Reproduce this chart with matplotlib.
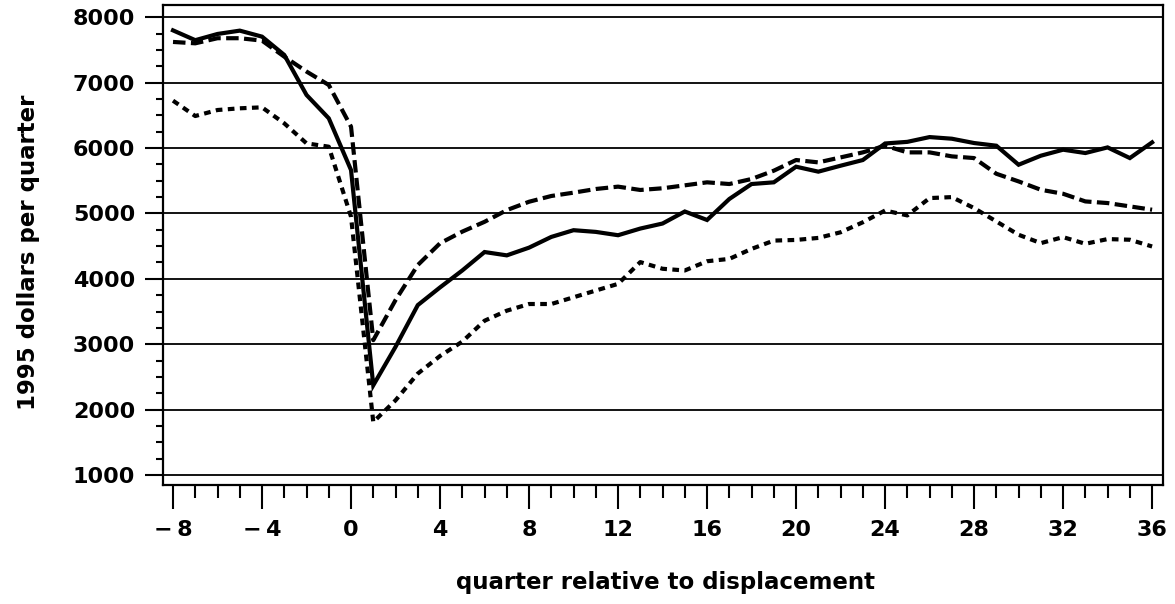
import matplotlib
matplotlib.use("Agg")
import matplotlib.pyplot as plt
from matplotlib.ticker import MultipleLocator, FixedLocator

quarters = list(range(-8, 37))

solid = [7800, 7650, 7745, 7796, 7704, 7424, 6812, 6455, 5664,
         2372, 2960, 3598, 3869, 4128, 4410, 4359, 4477, 4641, 4744, 4718,
         4667, 4769, 4846, 5030, 4900, 5221, 5450, 5476, 5715, 5639, 5730,
         5817, 6070, 6095, 6168, 6143, 6077, 6036, 5745, 5883, 5975, 5924,
         6010, 5847, 6087]

dashed = [7623, 7602, 7680, 7680, 7643, 7398, 7170, 6965, 6327,
          3062, 3675, 4211, 4544, 4722, 4872, 5051, 5179, 5267, 5318, 5374,
          5410, 5359, 5385, 5430, 5476, 5450, 5527, 5654, 5817, 5781, 5857,
          5934, 6036, 5934, 5934, 5873, 5847, 5607, 5490, 5362, 5301, 5184,
          5159, 5108, 5057]

dotted = [6725, 6490, 6582, 6608, 6623, 6378, 6072, 6021, 4950,
          1810, 2142, 2551, 2820, 3040, 3359, 3513, 3615, 3615, 3718, 3821,
          3923, 4256, 4154, 4128, 4269, 4305, 4458, 4585, 4595, 4626, 4712,
          4865, 5045, 4970, 5235, 5250, 5082, 4878, 4674, 4546, 4638, 4536,
          4608, 4598, 4495]

x_major = [-8, -4, 0, 4, 8, 12, 16, 20, 24, 28, 32, 36]
x_labels = ["\u2212\u20098", "\u2212\u20094", "0", "4", "8", "12", "16", "20", "24", "28", "32", "36"]
y_major = [1000, 2000, 3000, 4000, 5000, 6000, 7000, 8000]
y_labels = ["1000", "2000", "3000", "4000", "5000", "6000", "7000", "8000"]

plt.rcParams['font.family'] = ['DejaVu Sans']
plt.rcParams['font.weight'] = 'bold'

fig = plt.figure(figsize=(11.75, 6.04), dpi=100)
ax = fig.add_axes([163/1175, 1-485/604, 1000/1175, 480/604])

for yv in y_major:
    ax.axhline(yv, color='black', lw=1.3, zorder=1)

lw = 3.0
ax.plot(quarters, solid, color='black', lw=lw, solid_joinstyle='miter', zorder=3)
ax.plot(quarters, dashed, color='black', lw=lw, dashes=(3.0, 1.3), dash_capstyle='butt', zorder=3)
ax.plot(quarters, dotted, color='black', lw=lw, dashes=(1.6, 1.3), dash_capstyle='butt', zorder=3)

ax.set_xlim(-8.45, 36.49)
ax.set_ylim(847, 8188)

ax.xaxis.set_major_locator(FixedLocator(x_major))
ax.set_xticklabels(x_labels)
ax.xaxis.set_minor_locator(MultipleLocator(1))
ax.yaxis.set_major_locator(FixedLocator(y_major))
ax.set_yticklabels(y_labels)
ax.yaxis.set_minor_locator(MultipleLocator(250))

ax.tick_params(axis='x', which='major', length=17, width=1.5, direction='out', pad=8, labelsize=16)
ax.tick_params(axis='x', which='minor', length=9.5, width=1.5, direction='out')
ax.tick_params(axis='y', which='major', length=13, width=1.5, direction='out', pad=7, labelsize=16)
ax.tick_params(axis='y', which='minor', length=5, width=1.5, direction='out')

for s in ax.spines.values():
    s.set_linewidth(1.6)

for lab in ax.get_xticklabels() + ax.get_yticklabels():
    lab.set_fontweight('bold')

fig.text(29/1175, 1-252/604, "1995 dollars per quarter", rotation=90,
         ha='center', va='center', fontsize=16.5, fontweight='bold')
fig.text(665/1175, 1-582/604, "quarter relative to displacement",
         ha='center', va='center', fontsize=16.5, fontweight='bold')

fig.savefig("out.png", dpi=100)
